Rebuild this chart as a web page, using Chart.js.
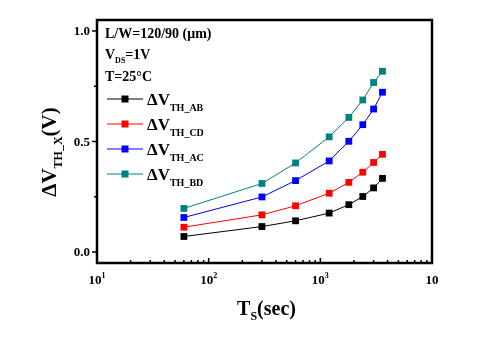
<!DOCTYPE html>
<html>
<head>
<meta charset="utf-8">
<script src="https://cdn.jsdelivr.net/npm/chart.js@4/dist/chart.umd.min.js"></script>
<style>
html,body{margin:0;padding:0;background:#fff;}
#wrap{width:486px;height:338px;position:relative;}
</style>
</head>
<body>
<div id="wrap"><canvas id="c" width="486" height="338"></canvas></div>
<script>
// ---- data ----
const stressTimes = [60, 300, 600, 1200, 1800, 2400, 3000, 3600];
const dVthAB = [0.070, 0.115, 0.141, 0.176, 0.214, 0.251, 0.290, 0.333];
const dVthCD = [0.112, 0.168, 0.209, 0.266, 0.315, 0.361, 0.405, 0.442];
const dVthAC = [0.156, 0.249, 0.323, 0.412, 0.501, 0.576, 0.647, 0.723];
const dVthBD = [0.197, 0.310, 0.403, 0.521, 0.609, 0.688, 0.767, 0.818];
const seriesSubs = ['TH_AB', 'TH_CD', 'TH_AC', 'TH_BD'];
const yMajorTicks = [0.0, 0.5, 1.0];
const yMinorTicks = [0.25, 0.75];
const xMajorTicks = [10, 100, 1000, 10000];
const xTickExp = ['1', '2', '3', ''];
const noteLines = ['L/W=120/90 (\u03bcm)', 'V_DS=1V', 'T=25\u00b0C'];

const colors = ['#000000', '#ff0000', '#0000ff', '#008080'];
const FONT = '"Liberation Serif","Times New Roman",serif';

function mk(vals){ return stressTimes.map((t,i)=>({x:t, y:vals[i]})); }
const allSeries = [dVthAB, dVthCD, dVthAC, dVthBD];

function drawParts(ctx, x, y, parts){
  let cx = x;
  for (const p of parts){
    ctx.font = 'bold ' + p.s + 'px ' + FONT;
    ctx.fillText(p.t, cx, y + (p.dy||0));
    cx += ctx.measureText(p.t).width;
  }
  return cx - x;
}
function partsWidth(ctx, parts){
  let w = 0;
  for (const p of parts){ ctx.font = 'bold ' + p.s + 'px ' + FONT; w += ctx.measureText(p.t).width; }
  return w;
}

const decor = {
  id: 'decor',
  afterDatasetsDraw(chart){
    const ctx = chart.ctx, a = chart.chartArea;
    const xs = chart.scales.x, ys = chart.scales.y;
    ctx.save();
    ctx.fillStyle = '#000'; ctx.strokeStyle = '#000';
    // frame
    ctx.lineWidth = 2.5;
    ctx.strokeRect(a.left, a.top, a.right - a.left, a.bottom - a.top);
    // y ticks (outward)
    ctx.lineWidth = 1.5;
    ctx.beginPath();
    yMajorTicks.forEach(v=>{ const py = ys.getPixelForValue(v); ctx.moveTo(a.left, py); ctx.lineTo(a.left-5, py); });
    yMinorTicks.forEach(v=>{ const py = ys.getPixelForValue(v); ctx.moveTo(a.left, py); ctx.lineTo(a.left-3, py); });
    ctx.stroke();
    // x ticks (inward)
    ctx.beginPath();
    for (let d = 0; d < xMajorTicks.length; d++){
      const base = xMajorTicks[d];
      const px = xs.getPixelForValue(base);
      ctx.moveTo(px, a.bottom); ctx.lineTo(px, a.bottom-5);
      if (d < xMajorTicks.length-1){
        for (let m = 2; m <= 9; m++){
          const qx = xs.getPixelForValue(base*m);
          ctx.moveTo(qx, a.bottom); ctx.lineTo(qx, a.bottom-3);
        }
      }
    }
    ctx.stroke();
    // y tick labels
    ctx.textAlign = 'right'; ctx.textBaseline = 'middle';
    ctx.font = 'bold 13px ' + FONT;
    yMajorTicks.forEach(v=>{ ctx.fillText(v.toFixed(1), a.left-7, ys.getPixelForValue(v)+1); });
    // x tick labels
    ctx.textAlign = 'left'; ctx.textBaseline = 'alphabetic';
    xMajorTicks.forEach((v,i)=>{
      const parts = [{t:'10', s:13}];
      if (xTickExp[i]) parts.push({t:xTickExp[i], s:8, dy:-6});
      const w = partsWidth(ctx, parts);
      drawParts(ctx, xs.getPixelForValue(v) - w/2, a.bottom + 21, parts);
    });
    // x title
    const xt = [{t:'T', s:20}, {t:'S', s:12, dy:5}, {t:'(sec)', s:20}];
    const xw = partsWidth(ctx, xt);
    drawParts(ctx, (a.left + a.right)/2 - xw/2 + 2, 315, xt);
    // y title
    ctx.save();
    ctx.translate(56, 152);
    ctx.rotate(-Math.PI/2);
    const yt = [{t:'\u0394V', s:21}, {t:'TH_X', s:12, dy:6}, {t:'(V)', s:21}];
    const yw = partsWidth(ctx, yt);
    drawParts(ctx, -yw/2, 0, yt);
    ctx.restore();
    // notes
    drawParts(ctx, 105, 38, [{t:noteLines[0], s:14}]);
    drawParts(ctx, 105, 59, [{t:'V', s:14}, {t:'DS', s:8, dy:4}, {t:'=1V', s:14}]);
    drawParts(ctx, 105, 81, [{t:noteLines[2], s:14}]);
    // legend
    const metas = chart.data.datasets;
    for (let i = 0; i < metas.length; i++){
      const cy = 99 + i*25;
      ctx.strokeStyle = metas[i].borderColor; ctx.lineWidth = 1;
      ctx.beginPath(); ctx.moveTo(107, cy); ctx.lineTo(143, cy); ctx.stroke();
      ctx.fillStyle = metas[i].backgroundColor;
      ctx.fillRect(125-3.5, cy-3.5, 7, 7);
      ctx.fillStyle = '#000';
      drawParts(ctx, 147, cy + 6, [{t:'\u0394V', s:17}, {t:seriesSubs[i], s:10, dy:6}]);
    }
    ctx.restore();
  }
};

new Chart(document.getElementById('c'), {
  type: 'line',
  data: {
    datasets: allSeries.map((vals,i)=>({
      label: seriesSubs[i],
      data: mk(vals),
      borderColor: colors[i],
      backgroundColor: colors[i],
      borderWidth: 1,
      pointStyle: 'rect',
      pointRadius: 4.8,
      pointBorderWidth: 0,
      tension: 0
    }))
  },
  options: {
    responsive: false,
    animation: false,
    devicePixelRatio: 1,
    layout: { padding: { left: 97, right: 54, top: 20, bottom: 75 } },
    plugins: { legend: { display: false }, tooltip: { enabled: false } },
    scales: {
      x: { type: 'logarithmic', min: 10, max: 10000, display: false },
      y: { type: 'linear', min: -0.05, max: 1.05, display: false }
    }
  },
  plugins: [decor]
});
</script>
</body>
</html>
